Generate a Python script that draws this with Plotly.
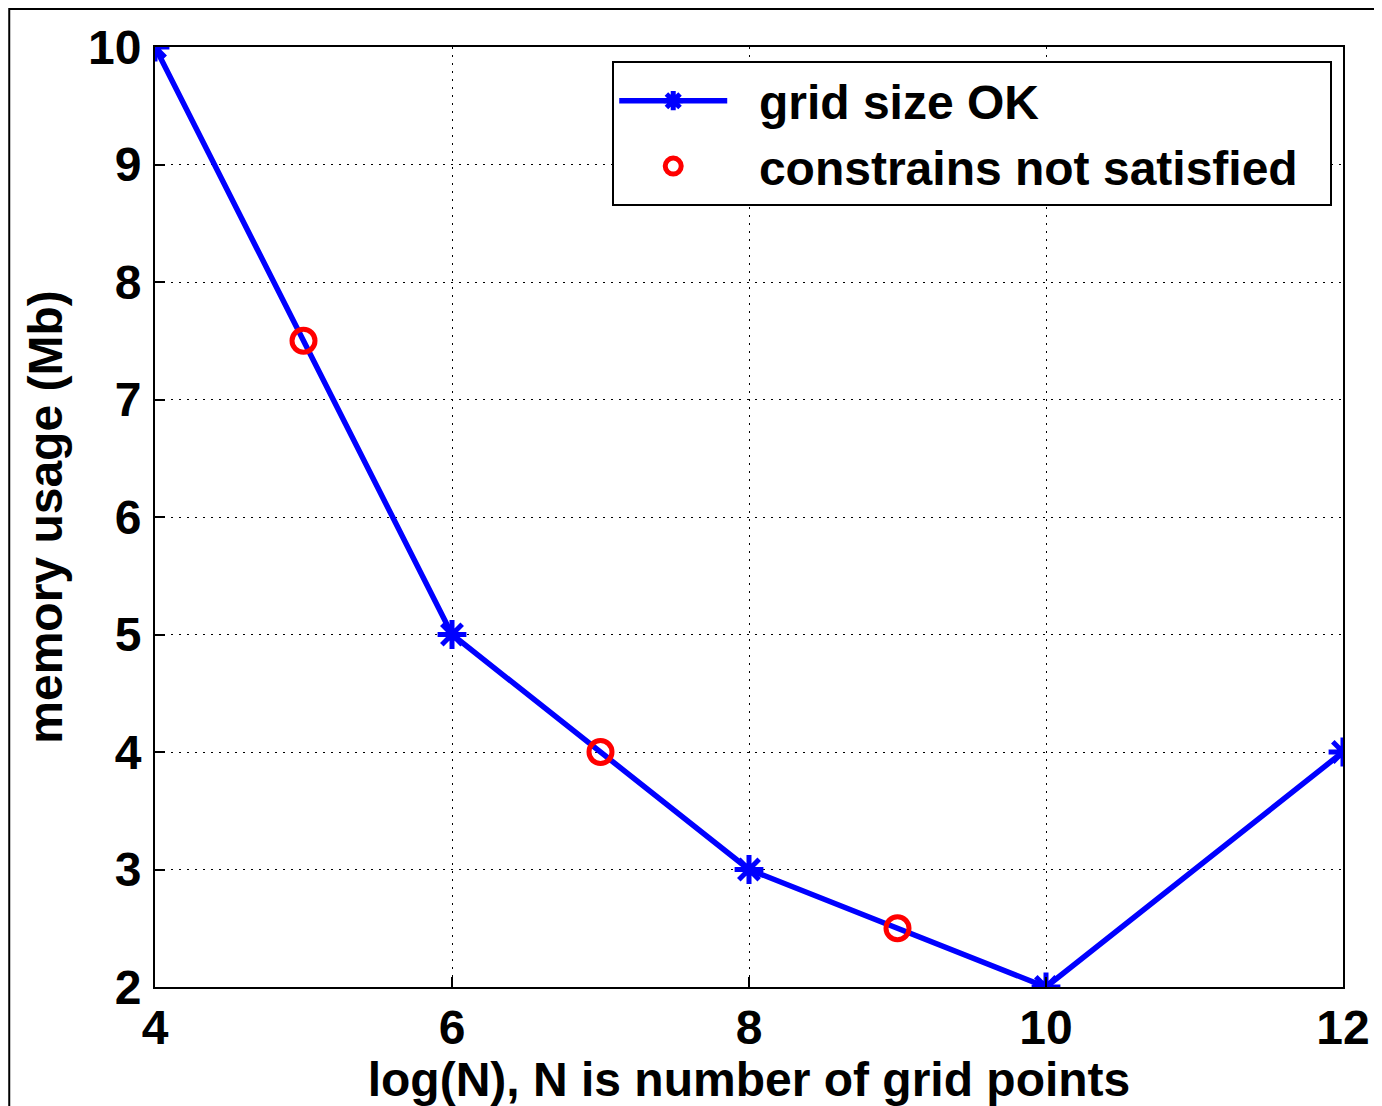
import plotly.graph_objects as go

# Data
ok_x = [4, 6, 8, 10, 12]
ok_y = [10, 5, 3, 2, 4]
bad_x = [5, 7, 9]
bad_y = [7.5, 4, 2.5]
x_ticks = [4, 6, 8, 10, 12]
y_ticks = [2, 3, 4, 5, 6, 7, 8, 9, 10]
names = ["grid size OK", "constrains not satisfied"]

# page has 8px body margin -> figure is 8px smaller and shifted
W, H = 1374, 1098
L, R, T, B = 147, 37, 39, 119
pw, ph = W - L - R, H - T - B

font = dict(family="Liberation Sans, Arial, sans-serif", size=48, color="black", weight="bold")
NB = "\u00a0"

fig = go.Figure()
fig.add_trace(go.Scatter(
    x=ok_x, y=ok_y, mode="lines+markers", name=NB * 2 + names[0],
    line=dict(color="#0000ff", width=5.5),
    marker=dict(symbol="asterisk-open", size=24, color="#0000ff",
                line=dict(color="#0000ff", width=5)),
))
fig.add_trace(go.Scatter(
    x=bad_x, y=bad_y, mode="markers", name=NB * 2 + names[1] + NB * 2,
    marker=dict(symbol="circle-open", size=23, color="#ff0000",
                line=dict(color="#ff0000", width=5)),
))

axis_common = dict(
    showline=True, linecolor="black", linewidth=2, mirror=True,
    showgrid=True, gridcolor="black", gridwidth=1.2, griddash="2px,6px",
    ticks="inside", ticklen=10, tickwidth=1.5, tickcolor="black",
    zeroline=False, tickfont=font,
)

fig.update_xaxes(range=[4, 12], tickvals=x_ticks, ticktext=[str(v) for v in x_ticks],
                 title=dict(text="log(N), N is number of grid points", font=font, standoff=0),
                 ticklabelstandoff=-3, **axis_common)
fig.update_yaxes(range=[2, 10], tickvals=y_ticks, ticktext=[str(v) for v in y_ticks],
                 title=dict(text="memory usage (Mb)", font=font, standoff=10),
                 ticklabelstandoff=2, **axis_common)

# outer frame = figure border (only top/left visible in reference)
fig.add_shape(type="rect", xref="paper", yref="paper",
              x0=(1 - L) / pw, x1=(W + 10 - L) / pw,
              y0=(H - B - (H + 10)) / ph, y1=(H - B - 1) / ph,
              line=dict(color="black", width=2), layer="below")

fig.update_layout(
    width=W, height=H,
    margin=dict(l=L, r=R, t=T, b=B, pad=0),
    plot_bgcolor="white", paper_bgcolor="white",
    font=font,
    showlegend=True,
    legend=dict(x=(605 - L) / pw, y=(H - B - 53) / ph, xanchor="left", yanchor="top",
                bgcolor="white", bordercolor="black", borderwidth=2,
                font=font, itemwidth=108, tracegroupgap=0),
)

fig.write_html("out.html")
